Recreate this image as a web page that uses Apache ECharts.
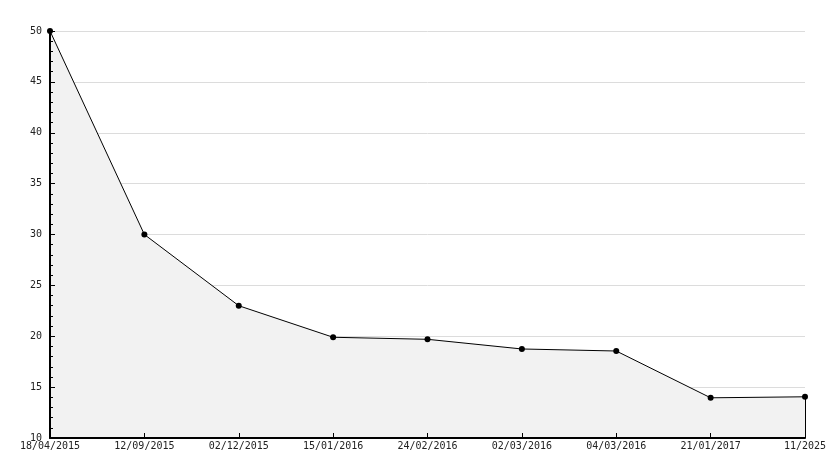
<!DOCTYPE html>
<html><head><meta charset="utf-8">
<script src="https://cdn.jsdelivr.net/npm/echarts@6/dist/echarts.min.js"></script>
<style>html,body{margin:0;padding:0;background:#fff}#c{width:834px;height:468px}</style>
</head><body><div id="c"></div>
<script>
const categories = ['18/04/2015','12/09/2015','02/12/2015','15/01/2016','24/02/2016','02/03/2016','04/03/2016','21/01/2017','11/2025'];
const values = [50, 30, 23, 19.9, 19.7, 18.75, 18.55, 13.95, 14.05];
const yMin = 10, yMax = 50, yStep = 5;

const chart = echarts.init(document.getElementById('c'));
const font = 'DejaVu Sans Mono';
const lastIdx = categories.length - 1;
chart.setOption({
  animation: false,
  grid: {left: 50, right: 29, top: 31, bottom: 30, containLabel: false},
  xAxis: {
    type: 'category', data: categories, boundaryGap: false, z: 10,
    axisLine: {lineStyle: {color: '#000', width: 2}},
    axisTick: {show: true, inside: true, length: 5, lineStyle: {color: '#000', width: 1}, alignWithLabel: true},
    axisLabel: {color: '#222', fontFamily: font, fontSize: 10, margin: 3, interval: 0},
    splitLine: {show: false}
  },
  yAxis: [{
    type: 'value', min: yMin, max: yMax, interval: yStep,
    axisLine: {show: false}, axisTick: {show: false}, axisLabel: {show: false},
    splitLine: {show: true, lineStyle: {color: '#dcdcdc', width: 1}}
  }, {
    type: 'value', min: yMin, max: yMax, interval: yStep, position: 'left', z: 10,
    axisLine: {show: true, lineStyle: {color: '#000', width: 2}},
    axisTick: {show: true, inside: true, length: 5, lineStyle: {color: '#000'}},
    minorTick: {show: true, splitNumber: 5, length: 3, lineStyle: {color: '#000'}},
    axisLabel: {color: '#222', fontFamily: font, fontSize: 10, margin: 8},
    splitLine: {show: false}
  }],
  series: [{
    type: 'line', data: values, yAxisIndex: 0,
    symbol: 'circle', symbolSize: 6,
    itemStyle: {color: '#000'},
    lineStyle: {color: '#000', width: 1},
    areaStyle: {color: '#f2f2f2', opacity: 1},
    markLine: {
      silent: true, symbol: 'none', label: {show: false},
      lineStyle: {color: '#000', width: 1, type: 'solid'},
      data: [[{coord: [lastIdx, values[lastIdx]]}, {coord: [lastIdx, yMin]}]]
    }
  }]
});
</script></body></html>
